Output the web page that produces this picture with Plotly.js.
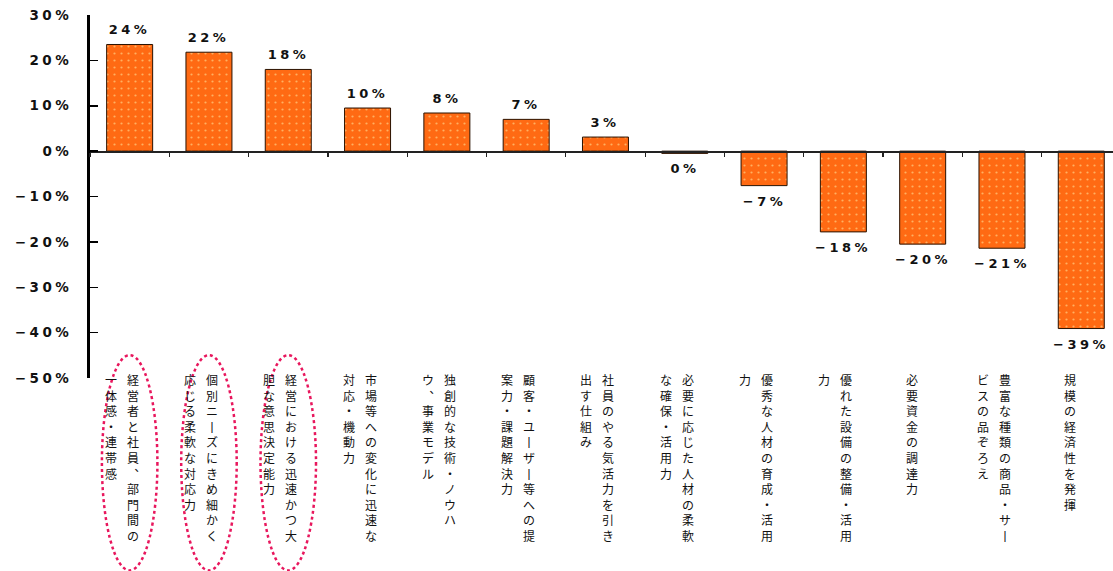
<!DOCTYPE html>
<html><head><meta charset="utf-8">
<script src="https://cdn.plot.ly/plotly-3.0.1.min.js"></script>
<style>
html,body{margin:0;padding:0;background:#fff;}
#chart{width:1113px;height:571px;}
.ytick text{letter-spacing:3.5px;}
</style></head><body><div id="chart"></div>
<script>
// Category labels: vertical Japanese text, first (right) column and second (left) column
const labelCol1 = ["経営者と社員、部門間の", "個別ニーズにきめ細かく", "経営における迅速かつ大", "市場等への変化に迅速な",
  "独創的な技術・ノウハ", "顧客・ユーザー等への提", "社員のやる気活力を引き", "必要に応じた人材の柔軟",
  "優秀な人材の育成・活用", "優れた設備の整備・活用", "必要資金の調達力", "豊富な種類の商品・サー", "規模の経済性を発揮"];
const labelCol2 = ["一体感・連帯感", "応じる柔軟な対応力", "胆な意思決定能力", "対応・機動力",
  "ウ、事業モデル", "案力・課題解決力", "出す仕組み", "な確保・活用力",
  "力", "力", "", "ビスの品ぞろえ", ""];
const values = [23.5, 21.8, 18.0, 9.5, 8.4, 7.0, 3.1, -0.5, -7.6, -17.8, -20.5, -21.4, -39.1];
const valueLabels = ["24%", "22%", "18%", "10%", "8%", "7%", "3%", "0%", "−7%", "−18%", "−20%", "−21%", "−39%"];
const yTickVals = [30, 20, 10, 0, -10, -20, -30, -40, -50];
const yTickText = ["30%", "20%", "10%", "0%", "−10%", "−20%", "−30%", "−40%", "−50%"];
const highlighted = [0, 1, 2];

const categories = labelCol1.map((c, i) => c + labelCol2[i]);
function vert(s) {
  return Array.from(s.replace(/、/g, '︑').replace(/ー/g, '丨')).join('<br>');
}

const annotations = [];
// value labels
values.forEach((v, i) => {
  annotations.push({
    x: categories[i], y: v, xref: 'x', yref: 'y', showarrow: false,
    text: valueLabels[i], xanchor: 'center',
    yanchor: v >= 0 ? 'bottom' : 'top', yshift: v >= 0 ? 5 : -6,
    font: {family: 'DejaVu Sans', size: 13, weight: 'bold', color: '#111'}
  });
});
// category labels
const labelFont = {family: 'Noto Sans CJK JP', size: 12, color: '#111'};
categories.forEach((c, i) => {
  const two = labelCol2[i].length > 0;
  annotations.push({
    x: c, y: 0, xref: 'x', yref: 'paper', showarrow: false, text: vert(labelCol1[i]),
    xanchor: 'center', yanchor: 'top', xshift: two ? 3 : -11, yshift: 9, font: labelFont
  });
  if (two) {
    annotations.push({
      x: c, y: 0, xref: 'x', yref: 'paper', showarrow: false, text: vert(labelCol2[i]),
      xanchor: 'center', yanchor: 'top', xshift: -19, yshift: 9, font: labelFont
    });
  }
});

const shapes = highlighted.map(i => ({
  type: 'circle', xref: 'x', yref: 'paper', x0: i - 0.35, x1: i + 0.35, y0: -0.53, y1: 0.063,
  line: {color: '#E8175D', width: 2.5, dash: 'dot'}
}));

// letter spacing for value labels
const st = document.createElement('style');
st.textContent = values.map((v, i) => `g.annotation[data-index="${i}"] text{letter-spacing:3.5px;}`).join('\n');
document.head.appendChild(st);

const trace = {
  type: 'bar', x: categories, y: values, hoverinfo: 'none',
  marker: {
    color: '#FF6A13',
    line: {color: '#2a1200', width: 1},
    pattern: {shape: '.', fgcolor: '#FFB060', bgcolor: '#FF6A13', size: 7, solidity: 0.08}
  }
};

const layout = {
  width: 1113, height: 571,
  margin: {l: 90, r: 0, t: 15, b: 193},
  paper_bgcolor: '#fff', plot_bgcolor: '#fff', showlegend: false,
  bargap: 0.42,
  xaxis: {
    type: 'category', categoryorder: 'array', categoryarray: categories, range: [-0.5, 12.4],
    anchor: 'free', position: 0.625, showline: true, linecolor: '#222', linewidth: 1.5,
    ticks: 'outside', tickson: 'boundaries', ticklen: 4, tickcolor: '#222', tickwidth: 1.2,
    showticklabels: false, showgrid: false, zeroline: false, fixedrange: true
  },
  yaxis: {
    range: [-50, 30], tickvals: yTickVals, ticktext: yTickText, ticks: 'inside', ticklen: 8,
    tickwidth: 1.5, tickcolor: '#000', showline: true, linewidth: 3, linecolor: '#000',
    showgrid: false, zeroline: false, ticklabelstandoff: 12, fixedrange: true,
    tickfont: {family: 'DejaVu Sans', size: 13.5, weight: 'bold', color: '#111'}
  },
  annotations: annotations,
  shapes: shapes
};
Plotly.newPlot('chart', [trace], layout, {displayModeBar: false, staticPlot: true});
</script></body></html>
